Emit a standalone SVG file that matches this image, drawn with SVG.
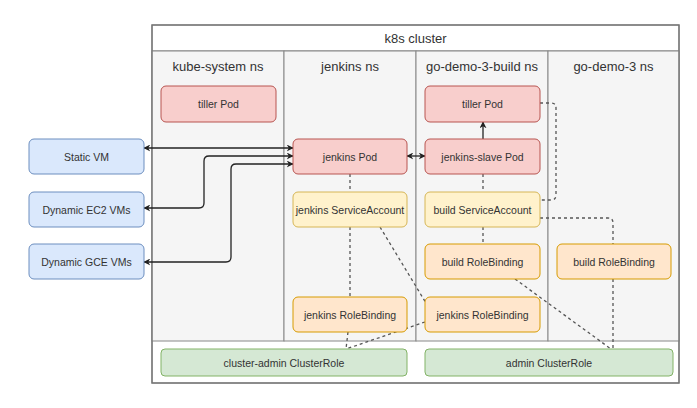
<svg xmlns="http://www.w3.org/2000/svg" width="697" height="408" viewBox="0 0 697 408">
<style>
text{font-family:"Liberation Sans",Arial,sans-serif;fill:#333;text-anchor:middle;dominant-baseline:central}
.t{font-size:13px}
.n{font-size:10.5px}
.red{fill:#f8cecc;stroke:#b85450;stroke-width:1}
.blue{fill:#dae8fc;stroke:#6c8ebf;stroke-width:1}
.yel{fill:#fff2cc;stroke:#d6b656;stroke-width:1}
.org{fill:#ffe6cc;stroke:#d79b00;stroke-width:1}
.grn{fill:#d5e8d4;stroke:#82b366;stroke-width:1}
.frame{fill:none;stroke:#777;stroke-width:1.2}
.lane{fill:#f5f5f5;stroke:#888;stroke-width:1}
.solid{fill:none;stroke:#222;stroke-width:1.3}
.dash{fill:none;stroke:#555;stroke-width:1.3;stroke-dasharray:3 3}
</style>
<defs>
<marker id="ah" viewBox="0 0 10 10" refX="9" refY="5" markerWidth="7" markerHeight="7" orient="auto-start-reverse" markerUnits="userSpaceOnUse">
<path d="M0,0 L10,5 L0,10 L3,5 Z" fill="#222"/>
</marker>
</defs>
<rect width="697" height="408" fill="#fff"/>
<g id="cluster">
<rect x="152" y="25" width="527" height="358" fill="#fff" class="frame"/>
<line x1="152" y1="51" x2="679" y2="51" class="frame"/>
<text class="t" x="415.5" y="38">k8s cluster</text>
</g>
<g id="ns-kube-system">
<rect x="152" y="51" width="132" height="290" class="lane"/>
<text class="t" x="218" y="66">kube-system ns</text>
</g>
<g id="ns-jenkins">
<rect x="284" y="51" width="132" height="290" class="lane"/>
<text class="t" x="350" y="66">jenkins ns</text>
</g>
<g id="ns-go-demo-3-build">
<rect x="416" y="51" width="132" height="290" class="lane"/>
<text class="t" x="482" y="66">go-demo-3-build ns</text>
</g>
<g id="ns-go-demo-3">
<rect x="548" y="51" width="131" height="290" class="lane"/>
<text class="t" x="613.5" y="66">go-demo-3 ns</text>
</g>
<rect x="152" y="25" width="527" height="358" class="frame"/>

<g id="connectors">
<path class="solid" d="M144,148 H293" marker-start="url(#ah)" marker-end="url(#ah)"/>
<path class="solid" d="M144,208 H199 Q204,208 204,203 V161 Q204,156 209,156 H293" marker-start="url(#ah)" marker-end="url(#ah)"/>
<path class="solid" d="M144,262 H226 Q231,262 231,257 V169 Q231,164 236,164 H293" marker-start="url(#ah)" marker-end="url(#ah)"/>
<path class="solid" d="M407,156 H425" marker-start="url(#ah)" marker-end="url(#ah)"/>
<path class="solid" d="M483,139 V122" marker-end="url(#ah)"/>
<path class="dash" d="M350,174 V192"/>
<path class="dash" d="M350,227 V297"/>
<path class="dash" d="M348,332 L346,349"/>
<path class="dash" d="M380,227 L426,303"/>
<path class="dash" d="M425,322 L346,349"/>
<path class="dash" d="M483,174 V192"/>
<path class="dash" d="M483,227 V244"/>
<path class="dash" d="M540,103 H551 Q556,103 556,108 V195 Q556,200 551,200 H540"/>
<path class="dash" d="M540,218 H608 Q613,218 613,223 V244"/>
<path class="dash" d="M613,279 V349"/>
<path class="dash" d="M515,279 L611,349"/>
</g>

<g id="static-vm"><rect class="blue" x="29" y="139" width="115" height="35" rx="5"/><text class="n" x="86.5" y="156.5">Static VM</text></g>
<g id="dynamic-ec2-vms"><rect class="blue" x="29" y="192" width="115" height="35" rx="5"/><text class="n" x="86.5" y="209.5">Dynamic EC2 VMs</text></g>
<g id="dynamic-gce-vms"><rect class="blue" x="29" y="244" width="115" height="35" rx="5"/><text class="n" x="86.5" y="261.5">Dynamic GCE VMs</text></g>

<g id="tiller-pod-kube"><rect class="red" x="161" y="86" width="115" height="36" rx="5"/><text class="n" x="218.5" y="104">tiller Pod</text></g>

<g id="jenkins-pod"><rect class="red" x="293" y="139" width="114" height="35" rx="5"/><text class="n" x="350" y="156.5">jenkins Pod</text></g>
<g id="jenkins-sa"><rect class="yel" x="293" y="192" width="114" height="35" rx="5"/><text class="n" x="350" y="209.5">jenkins ServiceAccount</text></g>
<g id="jenkins-rb-jenkins"><rect class="org" x="293" y="297" width="114" height="35" rx="5"/><text class="n" x="350" y="314.5">jenkins RoleBinding</text></g>

<g id="tiller-pod-build"><rect class="red" x="425" y="86" width="115" height="36" rx="5"/><text class="n" x="482.5" y="104">tiller Pod</text></g>
<g id="jenkins-slave-pod"><rect class="red" x="425" y="139" width="115" height="35" rx="5"/><text class="n" x="482.5" y="156.5">jenkins-slave Pod</text></g>
<g id="build-sa"><rect class="yel" x="425" y="192" width="115" height="35" rx="5"/><text class="n" x="482.5" y="209.5">build ServiceAccount</text></g>
<g id="build-rb-build"><rect class="org" x="425" y="244" width="115" height="35" rx="5"/><text class="n" x="482.5" y="261.5">build RoleBinding</text></g>
<g id="jenkins-rb-build"><rect class="org" x="425" y="297" width="115" height="35" rx="5"/><text class="n" x="482.5" y="314.5">jenkins RoleBinding</text></g>

<g id="build-rb-go-demo-3"><rect class="org" x="557" y="244" width="114" height="35" rx="5"/><text class="n" x="614" y="261.5">build RoleBinding</text></g>

<g id="cluster-admin-clusterrole"><rect class="grn" x="161" y="349" width="246" height="27" rx="4"/><text class="n" x="284" y="362.5">cluster-admin ClusterRole</text></g>
<g id="admin-clusterrole"><rect class="grn" x="425" y="349" width="248" height="27" rx="4"/><text class="n" x="549" y="362.5">admin ClusterRole</text></g>
</svg>
